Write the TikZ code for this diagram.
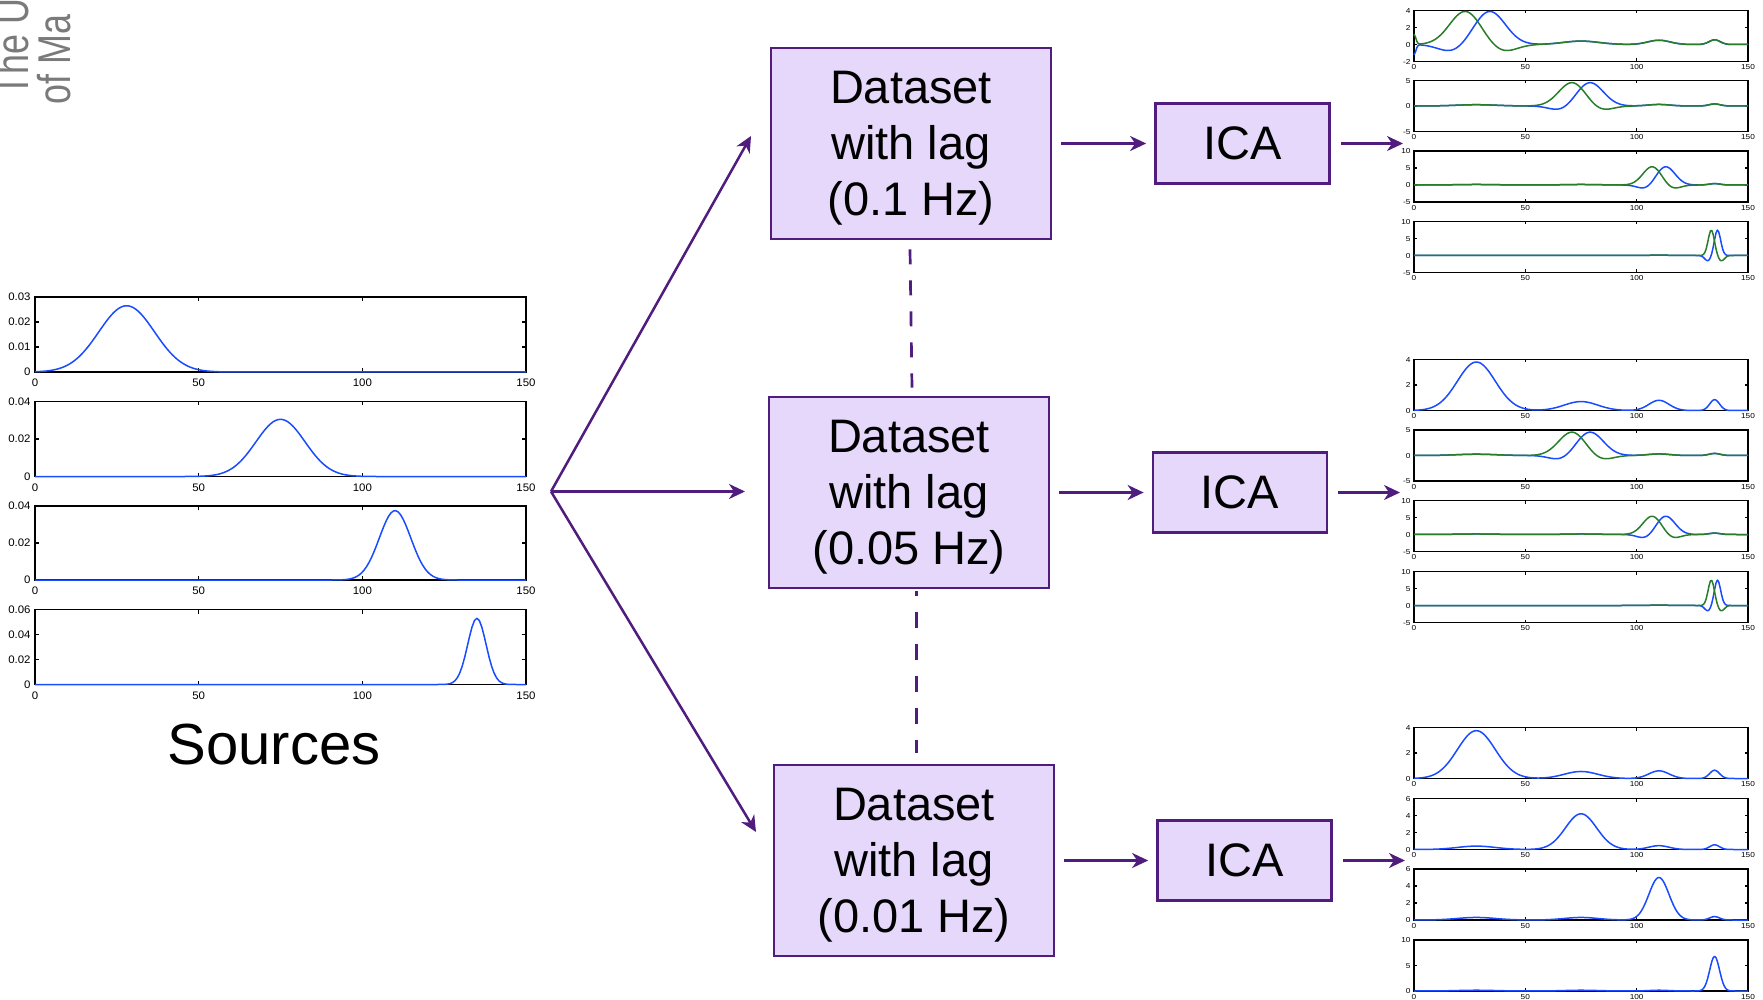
\documentclass[tikz,border=0pt]{standalone}
\usepackage{fontspec}
\setmainfont{Liberation Sans}
\usetikzlibrary{arrows.meta}
\definecolor{pur}{RGB}{80,28,126}
\definecolor{boxfill}{RGB}{229,216,250}
\definecolor{mblue}{RGB}{25,75,255}
\definecolor{mgreen}{RGB}{40,125,40}
\definecolor{logogray}{RGB}{122,122,122}

\newcommand{\setax}[6]{\def\aL{#1}\def\aT{#2}\def\aR{#3}\def\aB{#4}\def\aymin{#5}\def\aymax{#6}}
\newcommand{\drawax}[2]{%
  \draw[axbox] (\aL,\aT) rectangle (\aR,\aB);
  \foreach \t [count=\i] in {0,50,100,150}{%
    \pgfmathsetmacro\mtx{\aL+\t/150*(\aR-\aL)}%
    \draw[axbox] (\mtx,\aB) -- ++(0,-\atl) (\mtx,\aT) -- ++(0,\atl);
    \node[ticklab,anchor=north] (#1-x\i) at (\mtx,\aB+\axg) {\t};
  }%
  \foreach \v [count=\i] in {#2}{%
    \pgfmathsetmacro\mty{\aB-(\v-(\aymin))/((\aymax)-(\aymin))*(\aB-\aT)}%
    \draw[axbox] (\aL,\mty) -- ++(\atl,0) (\aR,\mty) -- ++(-\atl,0);
    \node[ticklab,anchor=east] (#1-y\i) at (\aL-\ayg,\mty) {\v};
  }%
}
\newcommand{\mcurve}[2]{%
  \pgfmathsetmacro\xu{(\aR-\aL)/150*0.5}%
  \pgfmathsetmacro\yu{(\aB-\aT)/((\aymax)-(\aymin))*0.5}%
  \begin{scope}[shift={(\aL,\aB)}, x=\xu pt, y=\yu pt]
    \draw[crv,#1] plot[domain=0:150, samples=\nsamp] (\x,{#2-(\aymin)});
  \end{scope}%
}
\def\Bii{0.25*G(\x,28,9)+0.3*G(\x,110,5)+0.4*G(\x,135,2.5)}
\def\Biii{0.15*G(\x,28,9)+0.15*G(\x,75,8)+0.4*G(\x,135,2.5)}
\def\Bi{0.4*G(\x,75,8)+0.5*G(\x,110,5)+0.55*G(\x,135,2.5)}
\newcommand{\topstrut}{\rule{0pt}{20.4pt}}

\begin{document}
\begin{tikzpicture}[x=0.5pt,y=-0.5pt,
  declare function={G(\gx,\gm,\gs)=exp(-0.5*min(4.3,abs((\gx-\gm)/\gs))*min(4.3,abs((\gx-\gm)/\gs)));},
  dbox/.style={draw=pur, fill=boxfill, line width=1.35pt, minimum width=140pt, minimum height=95.5pt, inner sep=0pt, align=center, font=\fontsize{23.5}{28}\selectfont},
  icabox/.style={dbox, minimum width=87pt, minimum height=40pt},
  conn/.style={draw=pur, line width=1.25pt, -{Stealth[length=8pt,width=7.5pt,inset=2.5pt]}},
  dashconn/.style={draw=pur, line width=1.35pt},
  axbox/.style={draw=black, line width=0.7pt},
  crv/.style={line width=0.75pt, line join=round},
  logo/.style={text=logogray, inner sep=0pt, font=\fontsize{23}{23}\selectfont},
]
\useasboundingbox (0,0) rectangle (1763,1000);

% cut-off logo text
\begin{scope}
\clip (0,0) rectangle (1763,1000);
\node[logo, rotate=90, xscale=0.78, anchor=base west] (logo1) at (28,97) {The U};
\node[logo, rotate=90, xscale=0.78, anchor=base west] (logo2) at (70,105) {of Ma};
\end{scope}

% ---------- source plots ----------
\tikzset{ticklab/.style={inner sep=0pt, text height=3.9pt, text depth=0pt, xscale=1.05, font=\fontsize{5.45}{6}\selectfont}}
\def\atl{4}\def\axg{6.5}\def\ayg{4}\def\nsamp{201}
\setax{35}{297}{526}{372}{0}{0.03}
\drawax{s1}{0,0.01,0.02,0.03}
\mcurve{mblue}{0.0265*G(\x,28,8.5)}
\setax{35}{401.5}{526}{476.5}{0}{0.04}
\drawax{s2}{0,0.02,0.04}
\mcurve{mblue}{0.0305*G(\x,75,7.5)}
\setax{35}{506}{526}{580}{0}{0.04}
\drawax{s3}{0,0.02,0.04}
\mcurve{mblue}{0.0375*G(\x,110,4.8)}
\setax{35}{609.5}{526}{684.5}{0}{0.06}
\drawax{s4}{0,0.02,0.04,0.06}
\mcurve{mblue}{0.053*G(\x,135,2.8)}

\node[inner sep=0pt, font=\fontsize{29}{34}\selectfont] (src) at (274,745) {Sources};

% ---------- boxes ----------
\node[dbox] (box1) at (911,143.5) {\topstrut Dataset\\with lag\\(0.1 Hz)};
\node[dbox] (box2) at (909,492.5) {\topstrut Dataset\\with lag\\(0.05 Hz)};
\node[dbox] (box3) at (914,860.5) {\topstrut Dataset\\with lag\\(0.01 Hz)};
\node[icabox] (ica1) at (1242.5,143.5) {ICA};
\node[icabox] (ica2) at (1240,492.5) {ICA};
\node[icabox] (ica3) at (1244.5,860.5) {ICA};

\coordinate (split) at (551,491.5);
\coordinate (t1) at (751,136);
\coordinate (t2) at (745,491.5);
\coordinate (t3) at (756,832);
\draw[conn] (split) -- (t1);
\draw[conn] (split) -- (t2);
\draw[conn] (split) -- (t3);

\draw[conn, shorten <=4.5pt, shorten >=4pt] (box1) -- (ica1);
\draw[conn, shorten <=4.5pt, shorten >=4pt] (box2) -- (ica2);
\draw[conn, shorten <=4.5pt, shorten >=4pt] (box3) -- (ica3);

\coordinate (p1) at (1403,143.5);
\coordinate (p2) at (1400,492.5);
\coordinate (p3) at (1405,860.5);
\draw[conn, shorten <=5pt] (ica1) -- (p1);
\draw[conn, shorten <=5pt] (ica2) -- (p2);
\draw[conn, shorten <=5pt] (ica3) -- (p3);

\draw[dashconn, dash pattern=on 7.5pt off 8pt] ([xshift=-0.5pt,yshift=-4.5pt]box1.south) -- ([xshift=1.5pt,yshift=4pt]box2.north);
\draw[dashconn, dash pattern=on 8pt off 8pt, dash phase=5.5pt] ([xshift=3.85pt,yshift=-0.75pt]box2.south) -- ([xshift=1.35pt,yshift=5.25pt]box3.north);

% ---------- ICA output plots ----------
\tikzset{ticklab/.style={inner sep=0pt, text height=2.6pt, text depth=0pt, xscale=1.15, font=\fontsize{3.6}{4}\selectfont}}
\def\atl{3}\def\axg{2.5}\def\ayg{3}\def\nsamp{241}

% group 1 (0.1 Hz)
\setax{1414}{10.5}{1748}{61.5}{-2}{4}
\drawax{a1}{-2,0,2,4}
\mcurve{mblue}{3.9*G(\x,34,7)-0.85*G(\x,17,6)-1.2*G(\x,0,0.8)+\Bi}
\mcurve{mgreen}{3.9*G(\x,23,7)-0.85*G(\x,40,6)+1.2*G(\x,0,0.8)+\Bi}
\setax{1414}{80.5}{1748}{131.5}{-5}{5}
\drawax{a2}{-5,0,5}
\mcurve{mblue}{4.6*G(\x,79,6)-0.9*G(\x,66,5)+\Bii}
\mcurve{mgreen}{4.6*G(\x,71,6)-0.9*G(\x,84,5)+\Bii}
\setax{1414}{151}{1748}{202}{-5}{10}
\drawax{a3}{-5,0,5,10}
\mcurve{mblue}{5.4*G(\x,113,4.2)-1.2*G(\x,104,3.5)+\Biii}
\mcurve{mgreen}{5.4*G(\x,107,4.2)-1.2*G(\x,116,3.5)+\Biii}
\setax{1414}{221.5}{1748}{272.5}{-5}{10}
\drawax{a4}{-5,0,5,10}
\mcurve{mblue}{7.5*G(\x,136.3,1.4)-1.6*G(\x,132,1.4)+0.1*G(\x,110,5)}
\mcurve{mgreen}{7.5*G(\x,133.5,1.4)-1.6*G(\x,138,1.4)+0.1*G(\x,110,5)}

% group 2 (0.05 Hz)
\setax{1414}{359.5}{1748}{410.5}{0}{4}
\drawax{b1}{0,2,4}
\mcurve{mblue}{3.8*G(\x,28,8.5)+0.7*G(\x,75,7.5)+0.8*G(\x,110,4.5)+0.85*G(\x,135,2.2)}
\setax{1414}{430}{1748}{481}{-5}{5}
\drawax{b2}{-5,0,5}
\mcurve{mblue}{4.6*G(\x,79,6)-0.9*G(\x,66,5)+\Bii}
\mcurve{mgreen}{4.6*G(\x,71,6)-0.9*G(\x,84,5)+\Bii}
\setax{1414}{500.5}{1748}{551.5}{-5}{10}
\drawax{b3}{-5,0,5,10}
\mcurve{mblue}{5.4*G(\x,113,4.2)-1.2*G(\x,104,3.5)+\Biii}
\mcurve{mgreen}{5.4*G(\x,107,4.2)-1.2*G(\x,116,3.5)+\Biii}
\setax{1414}{571.5}{1748}{622.5}{-5}{10}
\drawax{b4}{-5,0,5,10}
\mcurve{mblue}{7.5*G(\x,136.3,1.4)-1.6*G(\x,132,1.4)+0.1*G(\x,110,5)}
\mcurve{mgreen}{7.5*G(\x,133.5,1.4)-1.6*G(\x,138,1.4)+0.1*G(\x,110,5)}

% group 3 (0.01 Hz)
\setax{1414}{727.5}{1748}{778.5}{0}{4}
\drawax{c1}{0,2,4}
\mcurve{mblue}{3.75*G(\x,28,8.5)+0.55*G(\x,75,7.5)+0.6*G(\x,110,4.5)+0.65*G(\x,135,2.2)}
\setax{1414}{798.5}{1748}{849.5}{0}{6}
\drawax{c2}{0,2,4,6}
\mcurve{mblue}{0.4*G(\x,28,8.5)+4.2*G(\x,75,7)+0.45*G(\x,110,4.5)+0.55*G(\x,135,2.2)}
\setax{1414}{869}{1748}{920}{0}{6}
\drawax{c3}{0,2,4,6}
\mcurve{mblue}{0.3*G(\x,28,8.5)+0.3*G(\x,75,7.5)+5.0*G(\x,110,4.5)+0.4*G(\x,135,2.2)}
\setax{1414}{940}{1748}{991}{0}{10}
\drawax{c4}{0,5,10}
\mcurve{mblue}{0.15*G(\x,28,8.5)+0.15*G(\x,75,7.5)+0.15*G(\x,110,4.5)+6.8*G(\x,135,2.2)}
\end{tikzpicture}
\end{document}
